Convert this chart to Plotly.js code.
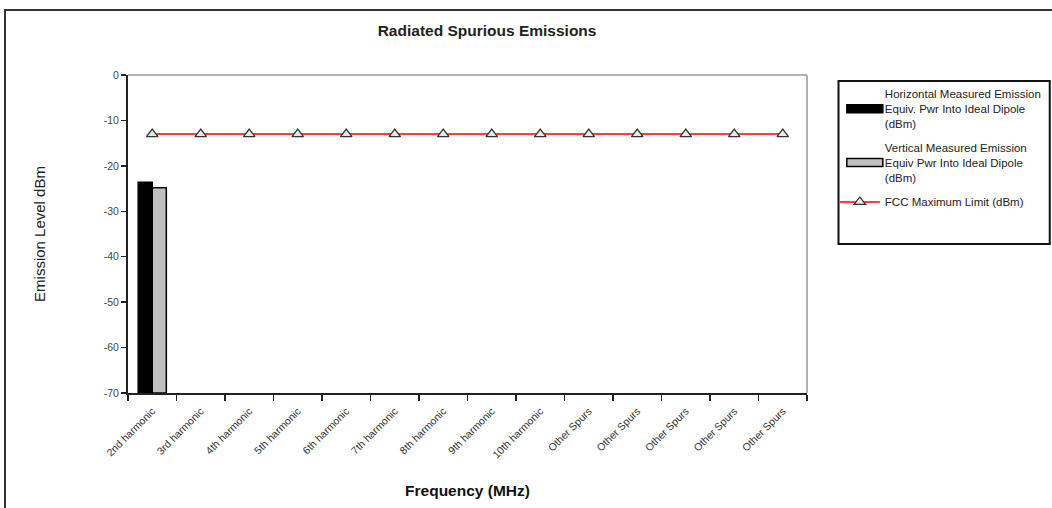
<!DOCTYPE html>
<html>
<head>
<meta charset="utf-8">
<script src="https://cdn.plot.ly/plotly-3.0.1.min.js"></script>
<style>
  html, body { margin: 0; padding: 0; background: #fff; }
  #frame { position: absolute; left: 4px; top: 9px; width: 1100px; height: 560px; border-left: 2px solid #333; border-top: 2px solid #333; }
  #chart { position: absolute; left: 0; top: 0; width: 1052px; height: 508px; }
</style>
</head>
<body>
<div id="frame"></div>
<div id="chart"></div>
<script>
const categories = ["2nd harmonic", "3rd harmonic", "4th harmonic", "5th harmonic", "6th harmonic",
  "7th harmonic", "8th harmonic", "9th harmonic", "10th harmonic",
  "Other Spurs", "Other Spurs", "Other Spurs", "Other Spurs", "Other Spurs"];
const horizontalValues = [-23.6, null, null, null, null, null, null, null, null, null, null, null, null, null];
const verticalValues = [-24.8, null, null, null, null, null, null, null, null, null, null, null, null, null];
const fccLimit = [-13, -13, -13, -13, -13, -13, -13, -13, -13, -13, -13, -13, -13, -13];
const yTicks = [0, -10, -20, -30, -40, -50, -60, -70];
const yTickText = ["0", "-10", "-20", "-30", "-40", "-50", "-60", "-70"];
const axisFloor = -70;

// make repeated category names distinct (zero-width spaces) so each keeps its own slot
const seen = {};
const xCats = categories.map(c => { seen[c] = (seen[c] || 0) + 1; return c + "\u200b".repeat(seen[c] - 1); });
// bars rise from the bottom of the axis (-70), as in the original chart
const fromFloor = arr => arr.map(v => v === null ? null : v - axisFloor);

const font = "Liberation Sans, Arial, sans-serif";

const traces = [
  { type: "bar", x: xCats, y: fromFloor(horizontalValues), base: axisFloor, legendgroup: "h",
    name: "Horizontal Measured Emission<br>Equiv. Pwr Into Ideal Dipole<br>(dBm)",
    marker: { color: "#000000", line: { color: "#000", width: 1.5 } } },
  { type: "bar", x: xCats, y: fromFloor(verticalValues), base: axisFloor, legendgroup: "v",
    name: "Vertical Measured Emission<br>Equiv Pwr Into Ideal Dipole<br>(dBm)",
    marker: { color: "#c0c0c0", line: { color: "#000", width: 1.5 } } },
  { type: "scatter", mode: "lines+markers", x: xCats, y: fccLimit, legendgroup: "f",
    name: "FCC Maximum Limit (dBm)",
    line: { color: "#ff0000", width: 1.5 },
    marker: { symbol: "triangle-up", size: 10, color: "#e8e8e8", line: { color: "#333", width: 1.3 } } }
];

const layout = {
  width: 1052, height: 508,
  paper_bgcolor: "rgba(0,0,0,0)", plot_bgcolor: "#fff",
  margin: { l: 128, r: 245, t: 75, b: 115, autoexpand: false },
  font: { family: font, color: "#222" },
  showlegend: true,
  barmode: "group", bargap: 0.42, bargroupgap: 0,
  title: { text: "<b>Radiated Spurious Emissions</b>", x: 0.463, xanchor: "center", y: 0.94, yanchor: "middle",
    font: { family: font, size: 15.5, color: "#222" } },
  xaxis: {
    type: "category", range: [-0.5, categories.length - 0.5],
    tickson: "boundaries", ticks: "outside", ticklen: 6, tickcolor: "#222", tickwidth: 1.5,
    tickangle: -45, tickfont: { family: font, size: 10.5, color: "#333" }, ticklabelstandoff: 6,
    showline: true, linecolor: "#222", linewidth: 2, mirror: false,
    showgrid: false, zeroline: false,
    title: { text: "<b>Frequency (MHz)</b>", standoff: 26, font: { family: font, size: 15.5, color: "#111" } }
  },
  yaxis: {
    range: [-70, 0], tickvals: yTicks, ticktext: yTickText, ticks: "outside", ticklen: 5, tickcolor: "#222", tickwidth: 1.5,
    tickfont: { family: font, size: 10.5, color: "#444" },
    showline: true, linecolor: "#222", linewidth: 2,
    showgrid: false, zeroline: false,
    title: { text: "Emission Level dBm", standoff: 54, font: { family: font, size: 15, color: "#222" } }
  },
  shapes: [
    { type: "line", xref: "paper", yref: "paper", x0: 0, x1: 1, y0: 1, y1: 1, line: { color: "#999", width: 1.5 } },
    { type: "line", xref: "paper", yref: "paper", x0: 1, x1: 1, y0: 0, y1: 1, line: { color: "#999", width: 1.5 } },
    { type: "rect", xref: "paper", yref: "paper", x0: 1.0464, x1: 1.3575, y0: 0.4686, y1: 0.9811,
      line: { color: "#111", width: 2 }, fillcolor: "rgba(0,0,0,0)" }
  ],
  legend: {
    x: 1.041, y: 0.985, xanchor: "left", yanchor: "top",
    bgcolor: "rgba(0,0,0,0)", borderwidth: 0,
    font: { family: font, size: 11.5, color: "#222" },
    tracegroupgap: 6, itemwidth: 40, traceorder: "grouped"
  }
};

const WIDE = "M23,4H-13V-4H23Z";
function widenSwatches() {
  document.querySelectorAll("#chart .legendpoints path").forEach(path => {
    const d = path.getAttribute("d") || "";
    const isBar = path.classList.contains("legendbar") || /^M6,6H-6V-6H6Z$/.test(d);
    if (isBar && d !== WIDE) path.setAttribute("d", WIDE);
  });
}

const gd = document.getElementById("chart");
new MutationObserver(widenSwatches).observe(gd, { subtree: true, childList: true, attributes: true, attributeFilter: ["d"] });
Plotly.newPlot(gd, traces, layout, { displayModeBar: false, staticPlot: true }).then(() => {
  widenSwatches();
  setTimeout(widenSwatches, 50);
});
</script>
</body>
</html>
